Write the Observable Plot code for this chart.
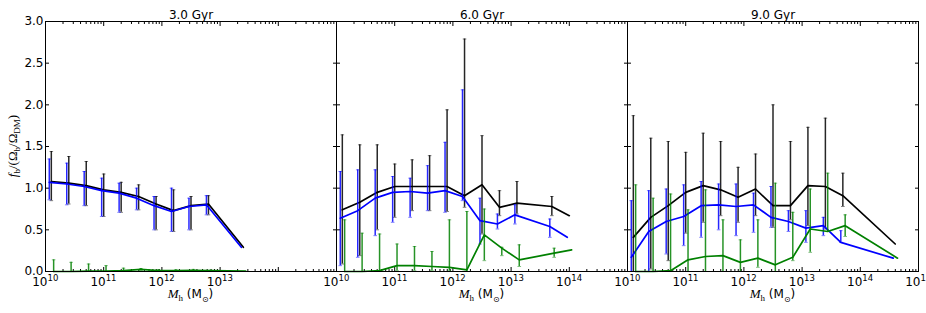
<!DOCTYPE html>
<html><head><meta charset="utf-8">
<script src="https://cdn.jsdelivr.net/npm/d3@7"></script>
<script src="https://cdn.jsdelivr.net/npm/@observablehq/plot@0.6"></script>
<style>
html,body{margin:0;padding:0;background:#fff;}
#chart{width:926px;height:313px;}
</style></head><body><div id="chart"></div>
<script>
// ---- panels (time) ----
const panels = ["3.0 Gyr", "6.0 Gyr", "9.0 Gyr"];

// ---- panel 1 : 3.0 Gyr ----
const logM1   = [10.1, 10.4, 10.7, 11.0, 11.3, 11.6, 11.9, 12.2, 12.5, 12.8, 13.4];
const black1  = [1.08, 1.06, 1.03, 0.98, 0.95, 0.90, 0.81, 0.73, 0.79, 0.81, 0.29];
const black1Lo= [0.85, 0.81, 0.79, 0.66, 0.71, 0.74, 0.50, 0.48, 0.50, 0.68, null];
const black1Hi= [1.44, 1.38, 1.32, 1.17, 1.07, 1.04, 0.90, 0.98, 0.90, 0.91, null];
const blue1   = [1.07, 1.05, 1.02, 0.97, 0.94, 0.88, 0.79, 0.72, 0.78, 0.80, 0.29];
const blue1Lo = [0.86, 0.80, 0.79, 0.66, 0.71, 0.74, 0.50, 0.48, 0.50, 0.68, null];
const blue1Hi = [1.35, 1.30, 1.20, 1.12, 1.06, 1.00, 0.90, 1.00, 0.88, 0.91, null];
const green1  = [0.00, 0.00, 0.005, 0.005, 0.01, 0.025, 0.01, 0.01, 0.015, 0.01, 0.005];
const green1Lo= [0.00, 0.00, 0.00, 0.00, 0.00, 0.015, 0.00, 0.00, 0.005, 0.005, null];
const green1Hi= [0.14, 0.11, 0.09, 0.07, 0.04, 0.035, 0.02, 0.02, 0.025, 0.015, null];

// ---- panel 2 : 6.0 Gyr ----
const logM2   = [10.1, 10.4, 10.7, 11.0, 11.3, 11.6, 11.9, 12.2, 12.5, 12.8, 13.1, 13.7, 14.0];
const black2  = [0.74, 0.83, 0.95, 1.02, 1.02, 1.02, 1.02, 0.91, 1.04, 0.77, 0.82, 0.78, 0.67];
const black2Lo= [0.09, 0.19, 0.50, 0.65, 0.73, 0.73, 0.72, 0.77, 0.45, 0.67, 0.69, 0.67, null];
const black2Hi= [1.64, 1.52, 1.52, 1.29, 1.34, 1.39, 1.94, 2.79, 1.63, 0.97, 1.08, 0.90, null];
const blue2   = [0.64, 0.73, 0.88, 0.95, 0.96, 0.94, 0.97, 0.90, 0.61, 0.57, 0.68, 0.54, 0.41];
const blue2Lo = [0.07, 0.17, 0.43, 0.59, 0.65, 0.73, 0.71, 0.85, 0.33, 0.51, 0.57, 0.41, null];
const blue2Hi = [1.20, 1.22, 1.22, 1.14, 1.12, 1.27, 1.55, 2.18, 0.88, 0.69, 0.80, 0.63, null];
const green2  = [0.00, 0.00, 0.01, 0.07, 0.07, 0.06, 0.05, 0.02, 0.44, 0.28, 0.14, 0.22, 0.26];
const green2Lo= [0.00, 0.00, 0.00, 0.01, 0.01, 0.01, 0.01, 0.00, 0.13, 0.19, 0.06, 0.17, null];
const green2Hi= [0.62, 0.46, 0.45, 0.33, 0.30, 0.24, 0.62, 0.72, 0.75, 0.29, 0.32, 0.28, null];

// ---- panel 3 : 9.0 Gyr ----
const logM3   = [10.1, 10.4, 10.7, 11.0, 11.3, 11.6, 11.9, 12.2, 12.5, 12.8, 13.1, 13.4, 13.7, 14.6];
const black3  = [0.41, 0.65, 0.79, 0.95, 1.03, 0.98, 0.89, 0.99, 0.79, 0.79, 1.03, 1.02, 0.91, 0.33];
const black3Lo= [0.00, 0.03, 0.13, 0.46, 0.59, 0.67, 0.59, 0.67, 0.53, 0.62, 0.55, 0.51, 0.78, null];
const black3Hi= [1.87, 1.60, 1.56, 1.43, 1.66, 1.56, 1.25, 1.41, 2.00, 1.56, 1.73, 1.84, 1.18, null];
const blue3   = [0.17, 0.48, 0.60, 0.66, 0.79, 0.80, 0.78, 0.80, 0.65, 0.60, 0.52, 0.55, 0.35, 0.16];
const blue3Lo = [0.00, 0.00, 0.21, 0.31, 0.41, 0.50, 0.43, 0.47, 0.53, 0.48, 0.35, 0.43, 0.35, null];
const blue3Hi = [0.85, 0.97, 0.99, 1.04, 1.08, 1.05, 1.05, 0.94, 1.02, 0.73, 0.73, 0.65, 0.49, null];
const green3  = [0.00, 0.00, 0.01, 0.14, 0.18, 0.19, 0.11, 0.16, 0.08, 0.17, 0.51, 0.48, 0.55, 0.16];
const green3Lo= [0.00, 0.00, 0.00, 0.00, 0.00, 0.00, 0.00, 0.05, 0.00, 0.13, 0.23, 0.48, 0.42, null];
const green3Hi= [1.04, 0.88, 0.93, 0.74, 0.98, 0.62, 0.38, 0.62, 1.06, 0.71, 0.99, 1.18, 0.68, null];

// ---- axis ticks / labels ----
const yTicks = [0, 0.5, 1.0, 1.5, 2.0, 2.5, 3.0];
const xDecades = [10, 11, 12, 13, 14, 15];
const tickExp1 = [10, 11, 12, 13];
const tickExp2 = [10, 11, 12, 13, 14];
const tickExp3 = [10, 11, 12, 13, 14, 15];

// series colours and small horizontal offset (dex) between series
const colors = {black: "#000000", blue: "#0000ff", green: "#008000"};
const shift = {black: 0, blue: -0.035, green: 0.04};

// ---- build tables ----
function build(panel, logM, v, lo, hi, series) {
  return logM.map((lm, i) => ({panel, series, m: Math.pow(10, lm + shift[series]), v: v[i], lo: lo[i], hi: hi[i]}));
}
const tables = {
  black: [...build(panels[0], logM1, black1, black1Lo, black1Hi, "black"),
          ...build(panels[1], logM2, black2, black2Lo, black2Hi, "black"),
          ...build(panels[2], logM3, black3, black3Lo, black3Hi, "black")],
  blue:  [...build(panels[0], logM1, blue1, blue1Lo, blue1Hi, "blue"),
          ...build(panels[1], logM2, blue2, blue2Lo, blue2Hi, "blue"),
          ...build(panels[2], logM3, blue3, blue3Lo, blue3Hi, "blue")],
  green: [...build(panels[0], logM1, green1, green1Lo, green1Hi, "green"),
          ...build(panels[1], logM2, green2, green2Lo, green2Hi, "green"),
          ...build(panels[2], logM3, green3, green3Lo, green3Hi, "green")]
};
const xMajor = xDecades.map(e => Math.pow(10, e));
const xMinor = xDecades.slice(0, -1).flatMap(e => [2,3,4,5,6,7,8,9].map(k => k * Math.pow(10, e)));
const tickRows = [
  ...tickExp1.map(e => ({panel: panels[0], m: Math.pow(10, e), e})),
  ...tickExp2.map(e => ({panel: panels[1], m: Math.pow(10, e), e})),
  ...tickExp3.map(e => ({panel: panels[2], m: Math.pow(10, e), e}))
];

const cap = {draw(ctx, size) { const w = Math.sqrt(size / Math.PI); ctx.moveTo(-w, 0); ctx.lineTo(w, 0); }};

function seriesMarks(name) {
  const data = tables[name];
  const bars = data.filter(d => d.hi != null);
  const c = colors[name];
  return [
    Plot.ruleX(bars, {fx: "panel", x: "m", y1: "lo", y2: "hi", stroke: c, strokeWidth: 1.5, strokeOpacity: 0.85}),
    Plot.dot(bars, {fx: "panel", x: "m", y: "hi", symbol: cap, r: 1.8, stroke: c, fill: "none", strokeWidth: 1, strokeOpacity: 0.5}),
    Plot.dot(bars, {fx: "panel", x: "m", y: "lo", symbol: cap, r: 1.8, stroke: c, fill: "none", strokeWidth: 1, strokeOpacity: 0.5}),
    Plot.line(data, {fx: "panel", x: "m", y: "v", stroke: c, strokeWidth: 1.7})
  ];
}

const noText = {fill: "none", label: null};
const plot = Plot.plot({
  width: 926, height: 313,
  marginLeft: 45, marginRight: 8, marginTop: 21, marginBottom: 42,
  style: {fontFamily: "'DejaVu Sans', sans-serif", fontSize: "12px", color: "black", background: "white", overflow: "visible"},
  x: {type: "log", domain: [1e10, 1e15]},
  y: {domain: [0, 3]},
  fx: {domain: panels, padding: 0},
  marks: [
    Plot.axisFx({anchor: "top", tickSize: 0, tickPadding: 3, label: null, fontSize: 12}),
    Plot.axisY(yTicks, {anchor: "left", tickSize: 0, tickPadding: 2, tickFormat: d => d.toFixed(1), label: null, fontSize: 12}),
    Plot.axisY(yTicks, {anchor: "left", tickSize: -4, facetAnchor: null, ...noText}),
    Plot.axisY(yTicks, {anchor: "right", tickSize: -4, facetAnchor: null, ...noText}),
    Plot.axisX(xMajor, {anchor: "bottom", tickSize: -4, facetAnchor: null, ...noText}),
    Plot.axisX(xMinor, {anchor: "bottom", tickSize: -2, facetAnchor: null, ...noText}),
    Plot.axisX(xMajor, {anchor: "top", tickSize: -4, facetAnchor: null, ...noText}),
    Plot.axisX(xMinor, {anchor: "top", tickSize: -2, facetAnchor: null, ...noText}),
    ...seriesMarks("black"),
    ...seriesMarks("blue"),
    ...seriesMarks("green"),
    Plot.frame({stroke: "black", strokeWidth: 1}),
    Plot.text(tickRows, {fx: "panel", x: "m", frameAnchor: "bottom", text: () => "10", textAnchor: "end", dx: 2, dy: 14, fontSize: 12}),
    Plot.text(tickRows, {fx: "panel", x: "m", frameAnchor: "bottom", text: d => String(d.e), textAnchor: "start", dx: 2, dy: 9, fontSize: 8.5})
  ]
});
document.getElementById("chart").appendChild(plot);

// ---- axis titles with sub-scripts ----
const svg = d3.select(plot);
const facetW = (926 - 45 - 8) / panels.length;
const g = svg.append("g").attr("fill", "black");
panels.forEach((p, i) => {
  const cx = 45 + facetW * i + facetW / 2;
  const t = g.append("text").attr("x", cx).attr("y", 298).attr("text-anchor", "middle")
    .attr("font-family", "'DejaVu Sans', sans-serif").attr("font-size", 12);
  t.append("tspan").attr("font-family", "'Liberation Serif', serif").attr("font-style", "italic").attr("font-size", 13).text("M");
  t.append("tspan").attr("font-family", "'Liberation Serif', serif").attr("font-size", 9).attr("dy", 3).text("h");
  t.append("tspan").attr("dy", -3).text(" (M");
  t.append("tspan").attr("font-size", 8).attr("dy", 4).text("⊙");
  t.append("tspan").attr("dy", -4).text(")");
});
const yl = g.append("text").attr("transform", "translate(17,146) rotate(-90)").attr("text-anchor", "middle")
  .attr("font-family", "'Liberation Serif', serif").attr("font-size", 13);
yl.append("tspan").attr("font-style", "italic").text("f");
yl.append("tspan").attr("font-size", 9).attr("dy", 3).text("b");
yl.append("tspan").attr("dy", -3).text("/(Ω");
yl.append("tspan").attr("font-size", 9).attr("dy", 3).text("b");
yl.append("tspan").attr("dy", -3).text("/Ω");
yl.append("tspan").attr("font-size", 9).attr("dy", 3).text("DM");
yl.append("tspan").attr("dy", -3).text(")");
</script></body></html>
